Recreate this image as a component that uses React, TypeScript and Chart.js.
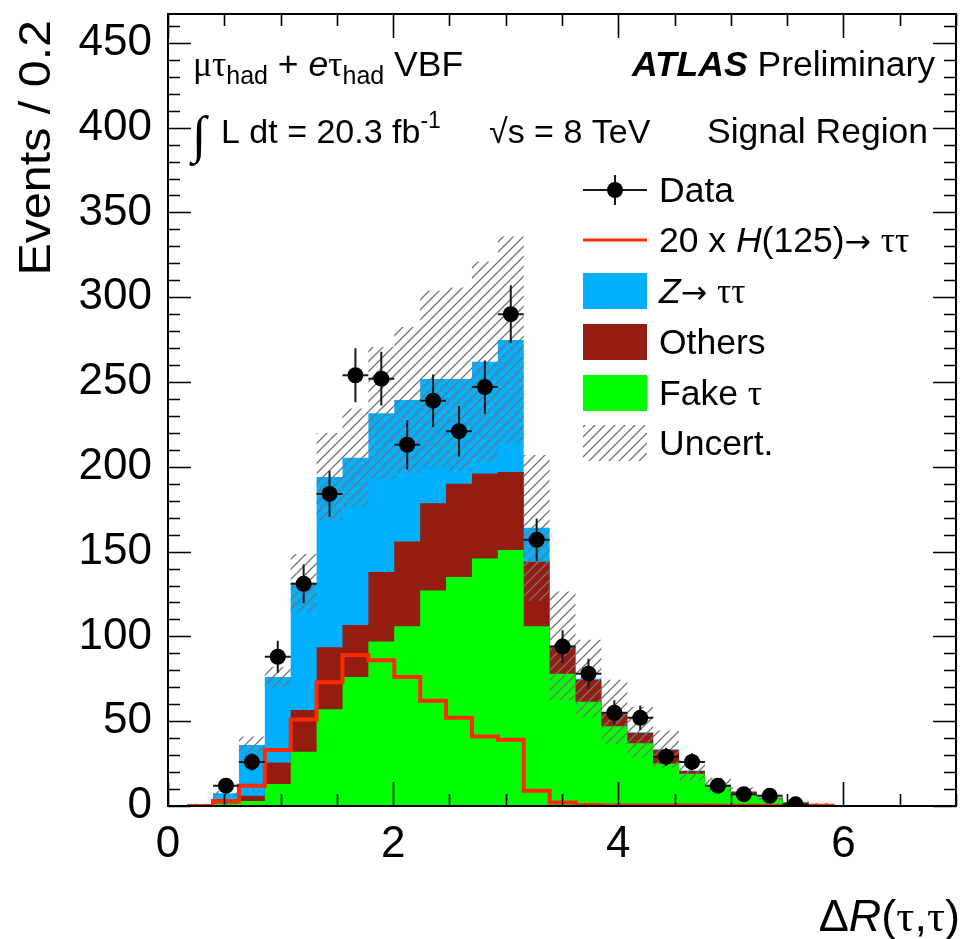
import React, { useEffect, useRef } from "react";
import { Chart, registerables } from "chart.js";

Chart.register(...registerables);

// ---------------- data ----------------
const binEdges = [
  0.17, 0.4, 0.63, 0.86, 1.09, 1.32, 1.55, 1.78, 2.01, 2.24, 2.47, 2.7, 2.93,
  3.16, 3.39, 3.62, 3.85, 4.08, 4.31, 4.54, 4.77, 5.0, 5.23, 5.46, 5.69, 5.92,
];
const fakeTau = [
  1, 1.5, 3, 13, 32, 57, 76, 97, 106, 127, 135, 146, 151, 106, 78, 61.5, 47, 37,
  25, 19, 11.5, 7.5, 4.5, 2, 1,
];
const others = [
  0, 1, 3, 12.6, 24.6, 36.6, 30.7, 41, 50, 51.5, 55, 50, 46, 38, 15.6, 12.8, 7.7,
  6, 8, 1.6, 0.9, 0.9, 0.3, 0.2, 0.1,
];
const zTauTau = [
  0, 5, 30, 50.4, 75, 100.4, 98.7, 93.6, 83.4, 73.3, 61.8, 66, 77.8, 20, 0.9,
  0.7, 0.8, 0.5, 0.5, 0.4, 0.2, 0.2, 0.2, 0.1, 0.1,
];
const bkgUncert = [
  0.3, 1.5, 5, 6, 17, 26, 29, 39, 43, 52, 54, 59, 61, 43, 32, 23, 19, 15, 11, 6,
  4, 2.5, 1.5, 1, 0.5,
];
const signal20xH = [
  0, 3, 12, 33, 51, 73, 89, 86, 76, 62, 52, 41, 39, 9, 2, 0.6, 0.3, 0.3, 0.3,
  0.3, 0.2, 0.2, 0.2, 0.1, 0.1,
];
const dataCounts: (number | null)[] = [
  null, 12, 26, 88, 131, 184, 254, 252, 213, 239, 221, 247, 290, 157, 94, 78, 55,
  52, 29, 26, 12, 7, 6, 1, null,
];
const dataErrors: (number | null)[] = [
  null, 3.5, 5.1, 9.4, 11.4, 13.6, 15.9, 15.9, 14.6, 15.5, 14.9, 15.7, 17.0,
  12.5, 9.7, 8.8, 7.4, 7.2, 5.4, 5.1, 3.5, 2.6, 2.4, 1.0, null,
];
const xMajorTicks = [0, 2, 4, 6];
const yMajorTicks = [0, 50, 100, 150, 200, 250, 300, 350, 400, 450];
const X_MIN = 0;
const X_MAX = 7;
const Y_MIN = 0;
const Y_MAX = 467;

const SANS = '"Liberation Sans", Arial, Helvetica, sans-serif';
const GREEK = '"Liberation Serif", "DejaVu Serif", serif';
const ARROW = '"DejaVu Sans", sans-serif';

const COL_Z = "#00b0ff";
const COL_OTHERS = "#951c10";
const COL_FAKE = "#00ff00";
const COL_SIGNAL = "#ff2a00";
const COL_HATCH = "#747474";

function stepPoints(vals: number[]) {
  const pts = vals.map((v, i) => ({ x: binEdges[i], y: v }));
  pts.push({ x: binEdges[vals.length], y: vals[vals.length - 1] });
  return pts;
}

type Run = { t: string; f: string; dy?: number };
function drawRuns(
  ctx: CanvasRenderingContext2D,
  runs: Run[],
  x: number,
  y: number,
  align: "left" | "right" = "left"
) {
  ctx.textAlign = "left";
  ctx.textBaseline = "alphabetic";
  let w = 0;
  for (const r of runs) {
    ctx.font = r.f;
    w += ctx.measureText(r.t).width;
  }
  let cx = align === "right" ? x - w : x;
  for (const r of runs) {
    ctx.font = r.f;
    ctx.fillText(r.t, cx, y + (r.dy || 0));
    cx += ctx.measureText(r.t).width;
  }
}

export default function App() {
  const ref = useRef<HTMLCanvasElement>(null);

  useEffect(() => {
    const canvas = ref.current!;
    const ctx0 = canvas.getContext("2d")!;

    // hatch pattern for the uncertainty band
    const sp = 10;
    const tile = document.createElement("canvas");
    tile.width = sp;
    tile.height = sp;
    const tg = tile.getContext("2d")!;
    tg.strokeStyle = COL_HATCH;
    tg.lineWidth = 1.3;
    tg.beginPath();
    tg.moveTo(0, sp);
    tg.lineTo(sp, 0);
    tg.moveTo(-sp / 2, sp / 2);
    tg.lineTo(sp / 2, -sp / 2);
    tg.moveTo(sp / 2, sp * 1.5);
    tg.lineTo(sp * 1.5, sp / 2);
    tg.stroke();
    const hatch = ctx0.createPattern(tile, "repeat")!;

    const stackOF = fakeTau.map((v, i) => v + others[i]);
    const total = stackOF.map((v, i) => v + zTauTau[i]);
    const upper = total.map((v, i) => v + bkgUncert[i]);
    const lower = total.map((v, i) => Math.max(0, v - bkgUncert[i]));
    const dataPts: { x: number; y: number; e: number; i: number }[] = [];
    dataCounts.forEach((v, i) => {
      if (v !== null)
        dataPts.push({
          x: (binEdges[i] + binEdges[i + 1]) / 2,
          y: v,
          e: dataErrors[i] as number,
          i,
        });
    });

    const fillDs = (vals: number[], color: string, order: number) => ({
      data: stepPoints(vals),
      stepped: true,
      fill: "origin",
      backgroundColor: color,
      borderColor: "transparent",
      borderWidth: 0,
      pointRadius: 0,
      order,
    });

    const errorBars = {
      id: "errorBars",
      beforeDatasetDraw(chart: any, args: any) {
        if (args.index !== 0) return;
        const c = chart.ctx;
        const xs = chart.scales.x;
        const ys = chart.scales.y;
        c.save();
        c.strokeStyle = "#1a1a1a";
        c.lineWidth = 2;
        c.beginPath();
        for (const p of dataPts) {
          const py = ys.getPixelForValue(p.y);
          c.moveTo(xs.getPixelForValue(binEdges[p.i]), py);
          c.lineTo(xs.getPixelForValue(binEdges[p.i + 1]), py);
          const px = xs.getPixelForValue(p.x);
          c.moveTo(px, ys.getPixelForValue(Math.max(0, p.y - p.e)));
          c.lineTo(px, ys.getPixelForValue(p.y + p.e));
        }
        c.stroke();
        c.restore();
      },
    };

    const decorations = {
      id: "decorations",
      afterDraw(chart: any) {
        const c: CanvasRenderingContext2D = chart.ctx;
        const { left, right, top, bottom } = chart.chartArea;
        const xs = chart.scales.x;
        const ys = chart.scales.y;
        c.save();
        // ticks (inside, ROOT style)
        c.strokeStyle = "#000";
        c.lineWidth = 1.6;
        c.beginPath();
        for (let v = Y_MIN; v <= Y_MAX; v += 10) {
          const y = Math.round(ys.getPixelForValue(v)) + 0.5;
          const len = v % 50 === 0 ? 23 : 12;
          c.moveTo(left, y);
          c.lineTo(left + len, y);
          c.moveTo(right, y);
          c.lineTo(right - len, y);
        }
        for (let v = X_MIN; v <= X_MAX; v += 0.5) {
          const x = Math.round(xs.getPixelForValue(v)) + 0.5;
          const len = v % 2 === 0 ? 24 : 12;
          c.moveTo(x, bottom);
          c.lineTo(x, bottom - len);
          c.moveTo(x, top);
          c.lineTo(x, top + len);
        }
        c.stroke();
        // frame
        c.lineWidth = 2;
        c.strokeRect(left, top, right - left, bottom - top);

        c.fillStyle = "#000";
        // axis titles
        c.save();
        c.translate(50, 20);
        c.rotate(-Math.PI / 2);
        c.scale(1.1, 1);
        c.font = `44px ${SANS}`;
        c.textAlign = "right";
        c.textBaseline = "alphabetic";
        c.fillText("Events / 0.2", 0, 0);
        c.restore();
        drawRuns(
          c,
          [
            { t: "\u0394", f: `45px ${SANS}` },
            { t: "R", f: `italic 45px ${SANS}` },
            { t: "(", f: `45px ${SANS}` },
            { t: "\u03c4", f: `45px ${GREEK}` },
            { t: ",", f: `45px ${SANS}` },
            { t: "\u03c4", f: `45px ${GREEK}` },
            { t: ")", f: `45px ${SANS}` },
          ],
          960,
          931,
          "right"
        );

        // annotations
        const F = 35.5;
        const fs = `${F}px ${SANS}`;
        const fg = `${F}px ${GREEK}`;
        const fa = `${F - 4}px ${ARROW}`;
        const sub = `25px ${SANS}`;
        drawRuns(
          c,
          [
            { t: "\u03bc\u03c4", f: fg },
            { t: "had", f: sub, dy: 8 },
            { t: " + ", f: fs },
            { t: "e", f: `italic ${fs}` },
            { t: "\u03c4", f: fg },
            { t: "had", f: sub, dy: 8 },
            { t: " VBF", f: fs },
          ],
          193,
          76
        );
        drawRuns(c, [{ t: "\u222b", f: `52px ${GREEK}` }], 192, 152);
        drawRuns(
          c,
          [
            { t: "L dt = 20.3 fb", f: `34px ${SANS}` },
            { t: "-1", f: `23px ${SANS}`, dy: -15 },
          ],
          221,
          143
        );
        drawRuns(c, [{ t: "\u221as = 8 TeV", f: `34px ${SANS}` }], 489, 143);
        drawRuns(
          c,
          [
            { t: "ATLAS", f: `italic bold ${fs}` },
            { t: " Preliminary", f: fs },
          ],
          935,
          76,
          "right"
        );
        drawRuns(c, [{ t: "Signal Region", f: fs }], 928, 143, "right");

        // legend
        const lx = 583;
        const lw = 64;
        const tx = 659;
        const rows = [190, 240, 291, 342, 393, 443];
        // Data
        c.strokeStyle = "#1a1a1a";
        c.lineWidth = 2;
        c.beginPath();
        c.moveTo(lx, rows[0]);
        c.lineTo(lx + lw, rows[0]);
        c.moveTo(lx + lw / 2, rows[0] - 15);
        c.lineTo(lx + lw / 2, rows[0] + 15);
        c.stroke();
        c.beginPath();
        c.arc(lx + lw / 2, rows[0], 8, 0, Math.PI * 2);
        c.fill();
        // signal
        c.strokeStyle = COL_SIGNAL;
        c.lineWidth = 3;
        c.beginPath();
        c.moveTo(lx, rows[1]);
        c.lineTo(lx + lw, rows[1]);
        c.stroke();
        // boxes
        c.fillStyle = COL_Z;
        c.fillRect(lx, rows[2] - 18, lw, 36);
        c.fillStyle = COL_OTHERS;
        c.fillRect(lx, rows[3] - 18, lw, 36);
        c.fillStyle = COL_FAKE;
        c.fillRect(lx, rows[4] - 18, lw, 36);
        c.fillStyle = hatch;
        c.fillRect(lx, rows[5] - 18, lw, 36);
        c.fillStyle = "#000";
        const by = 12;
        drawRuns(c, [{ t: "Data", f: fs }], tx, rows[0] + by);
        drawRuns(
          c,
          [
            { t: "20 x ", f: fs },
            { t: "H", f: `italic ${fs}` },
            { t: "(125)", f: fs },
            { t: "\u2192", f: fa },
            { t: " ", f: fs },
            { t: "\u03c4\u03c4", f: fg },
          ],
          tx,
          rows[1] + by
        );
        drawRuns(
          c,
          [
            { t: "Z", f: `italic ${fs}` },
            { t: "\u2192", f: fa },
            { t: " ", f: fs },
            { t: "\u03c4\u03c4", f: fg },
          ],
          tx,
          rows[2] + by
        );
        drawRuns(c, [{ t: "Others", f: fs }], tx, rows[3] + by);
        drawRuns(
          c,
          [
            { t: "Fake ", f: fs },
            { t: "\u03c4", f: fg },
          ],
          tx,
          rows[4] + by
        );
        drawRuns(c, [{ t: "Uncert.", f: fs }], tx, rows[5] + by);
        c.restore();
      },
    };

    const chart = new Chart(canvas, {
      type: "line",
      data: {
        datasets: [
          {
            label: "Data",
            data: dataPts.map((p) => ({ x: p.x, y: p.y })),
            showLine: false,
            pointRadius: 8,
            pointHoverRadius: 8,
            pointBackgroundColor: "#000",
            pointBorderColor: "#000",
            pointBorderWidth: 0,
            order: 0,
          } as any,
          {
            label: "20 x H(125) -> tautau",
            data: stepPoints(signal20xH),
            stepped: true,
            fill: false,
            borderColor: COL_SIGNAL,
            borderWidth: 4,
            pointRadius: 0,
            order: 1,
          },
          {
            label: "Uncert.",
            data: stepPoints(upper),
            stepped: true,
            fill: "+1",
            backgroundColor: hatch,
            borderColor: "transparent",
            borderWidth: 0,
            pointRadius: 0,
            order: 2,
          } as any,
          {
            label: "Uncert. low",
            data: stepPoints(lower),
            stepped: true,
            fill: false,
            borderColor: "transparent",
            borderWidth: 0,
            pointRadius: 0,
            order: 3,
          },
          { label: "Fake tau", ...fillDs(fakeTau, COL_FAKE, 4) } as any,
          { label: "Others", ...fillDs(stackOF, COL_OTHERS, 5) } as any,
          { label: "Z -> tautau", ...fillDs(total, COL_Z, 6) } as any,
        ],
      },
      options: {
        animation: false,
        responsive: false,
        devicePixelRatio: 1,
        events: [],
        layout: { padding: { left: 0, right: 5, top: 14, bottom: 0 } },
        plugins: {
          legend: { display: false },
          tooltip: { enabled: false },
        },
        scales: {
          x: {
            type: "linear",
            min: X_MIN,
            max: X_MAX,
            grid: { display: false },
            border: { display: false },
            afterBuildTicks: (s: any) => {
              s.ticks = xMajorTicks.map((v) => ({ value: v }));
            },
            afterFit: (s: any) => {
              s.height = 133;
              s.paddingLeft = 0;
              s.paddingRight = 0;
              s.paddingTop = 0;
              s.paddingBottom = 0;
            },
            ticks: {
              autoSkip: false,
              maxRotation: 0,
              padding: 4,
              color: "#000",
              font: { family: SANS, size: 44 },
            },
          },
          y: {
            type: "linear",
            min: Y_MIN,
            max: Y_MAX,
            grid: { display: false },
            border: { display: false },
            afterBuildTicks: (s: any) => {
              s.ticks = yMajorTicks.map((v) => ({ value: v }));
            },
            afterFit: (s: any) => {
              s.width = 168;
              s.paddingLeft = 0;
              s.paddingRight = 0;
              s.paddingTop = 0;
              s.paddingBottom = 0;
            },
            ticks: {
              autoSkip: false,
              padding: 8,
              color: "#000",
              font: { family: SANS, size: 44 },
            },
          },
        },
      } as any,
      plugins: [errorBars, decorations],
    });

    return () => chart.destroy();
  }, []);

  return (
    <div
      style={{
        position: "absolute",
        left: 0,
        top: 0,
        width: 964,
        height: 939,
        background: "#fff",
      }}
    >
      <canvas ref={ref} width={964} height={939} style={{ display: "block" }} />
    </div>
  );
}
